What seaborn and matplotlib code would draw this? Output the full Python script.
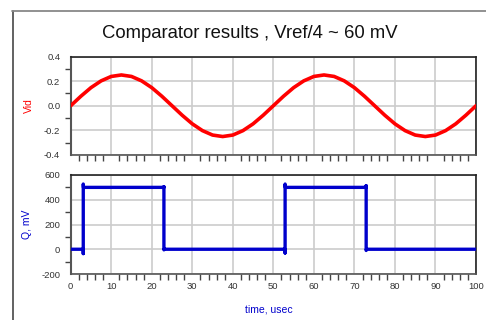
import numpy as np
import pandas as pd
import matplotlib
matplotlib.use("Agg")
import matplotlib.pyplot as plt
from matplotlib.lines import Line2D
from matplotlib.ticker import MultipleLocator, FixedLocator
import seaborn as sns

# ---- data ----
title = "Comparator results , Vref/4 ~ 60 mV"
vid_time = [0, 2.5, 5, 7.5, 10, 12.5, 15, 17.5, 20, 22.5, 25, 27.5, 30, 32.5, 35, 37.5,
            40, 42.5, 45, 47.5, 50, 52.5, 55, 57.5, 60, 62.5, 65, 67.5, 70, 72.5, 75,
            77.5, 80, 82.5, 85, 87.5, 90, 92.5, 95, 97.5, 100]
vid_vals = [0.0, 0.077, 0.147, 0.202, 0.238, 0.25, 0.238, 0.202, 0.147, 0.077,
            0.0, -0.077, -0.147, -0.202, -0.238, -0.25, -0.238, -0.202, -0.147, -0.077,
            0.0, 0.077, 0.147, 0.202, 0.238, 0.25, 0.238, 0.202, 0.147, 0.077,
            0.0, -0.077, -0.147, -0.202, -0.238, -0.25, -0.238, -0.202, -0.147, -0.077, 0.0]
q_time = [0, 3.1, 3.1, 3.1, 3.15, 23.0, 23.0, 23.0, 23.05, 52.9, 52.9, 52.9, 52.95,
          72.9, 72.9, 72.9, 72.95, 100]
q_vals = [0, 0, -35, 527, 500, 500, 505, -5, 0, 0, -30, 527, 500,
          500, 513, -10, 0, 0]
vid_ticks = [-0.4, -0.2, 0.0, 0.2, 0.4]
vid_ticklabels = ["-0.4", "-0.2", "0.0", "0.2", "0.4"]
q_ticks = [-200, 0, 200, 400, 600]
q_ticklabels = ["-200", "0", "200", "400", "600"]
x_ticks = [0, 10, 20, 30, 40, 50, 60, 70, 80, 90, 100]

sns.set_theme(style="white")
plt.rcParams['font.family'] = ['Liberation Sans', 'DejaVu Sans']
plt.rcParams['axes.unicode_minus'] = False

fig = plt.figure(figsize=(4.86, 3.2), dpi=100)
fig.patch.set_facecolor("white")

# frame lines
fig.add_artist(Line2D([12.5/486, 12.5/486], [0, 1 - 10.5/320], transform=fig.transFigure,
                      color="#555555", lw=1.3))
fig.add_artist(Line2D([12/486, 1], [1 - 10.5/320, 1 - 10.5/320], transform=fig.transFigure,
                      color="#888888", lw=1.3))

fig.text(250/486, 1 - 33/320, title, ha="center", va="center", fontsize=13.3, color="#111111")

L = 70.7/486
W = (476 - 70.7)/486
ax1 = fig.add_axes([L, 1 - 155/320, W, (155 - 56.5)/320])
ax2 = fig.add_axes([L, 1 - 274/320, W, (274 - 175)/320])

df1 = pd.DataFrame({"t": vid_time, "v": vid_vals})
df2 = pd.DataFrame({"t": q_time, "q": q_vals})
sns.lineplot(data=df1, x="t", y="v", ax=ax1, color="#ff0000", lw=2.6, sort=False,
             estimator=None, zorder=3)
sns.lineplot(data=df2, x="t", y="q", ax=ax2, color="#0000cc", lw=2.4, sort=False,
             estimator=None, zorder=3)

for ax, yt, ytl, lab, col, lx in [(ax1, vid_ticks, vid_ticklabels, "Vid", "#ff0000", -0.0905),
                                  (ax2, q_ticks, q_ticklabels, "Q, mV", "#0000cc", -0.0955)]:
    ax.set_xlim(0, 100)
    ax.set_ylim(yt[0], yt[-1])
    ax.xaxis.set_major_locator(FixedLocator(x_ticks))
    ax.xaxis.set_minor_locator(MultipleLocator(2))
    ax.yaxis.set_major_locator(FixedLocator(yt))
    ax.set_yticklabels(ytl)
    ax.yaxis.set_minor_locator(MultipleLocator((yt[1] - yt[0]) / 2))
    ax.grid(True, which="major", color="#cccccc", lw=1.2, zorder=0)
    for s in ax.spines.values():
        s.set_color("#222222")
        s.set_linewidth(1.2)
        s.set_visible(True)
    ax.spines["left"].set_color("#555555")
    ax.spines["left"].set_linewidth(1.5)
    ax.spines["bottom"].set_color("#555555")
    ax.tick_params(axis="x", which="major", direction="inout", length=9, width=1.1,
                   color="#444444", labelsize=6.8, labelcolor="#333333", pad=1)
    ax.tick_params(axis="x", which="minor", direction="out", length=4, width=1.0,
                   color="#444444", bottom=True)
    ax.tick_params(axis="y", which="major", direction="out", length=7, width=1.1,
                   color="#444444", labelsize=6.8, labelcolor="#333333", pad=0.5)
    ax.tick_params(axis="y", which="minor", direction="out", length=4, width=1.0,
                   color="#444444", left=True)
    ax.set_ylabel(lab, color=col, fontsize=7.5)
    ax.yaxis.set_label_coords(lx, 0.5)
    ax.set_facecolor("white")

ax1.tick_params(axis="x", labelbottom=False)
ax1.set_xlabel("")
ax2.set_xlabel("time, usec", color="#0000cc", fontsize=7.5)
ax2.xaxis.set_label_coords(0.49, -0.31)

fig.savefig("out.png", dpi=100)
